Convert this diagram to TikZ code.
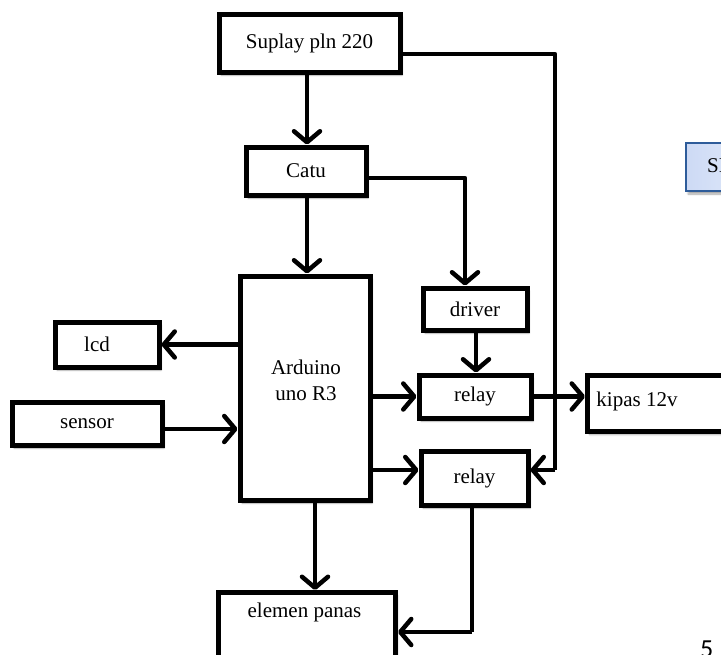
\documentclass[tikz,border=0pt]{standalone}
\usepackage{fontspec}
\setmainfont{Liberation Serif}
\newfontfamily\numfont{Carlito}
\usetikzlibrary{arrows.meta,shadows.blur}
\begin{document}
\begin{tikzpicture}[x=1pt,y=-1pt,
  blk/.style={draw=black, line width=5pt, fill=white, inner sep=0pt,
    blur shadow={shadow xshift=2pt, shadow yshift=-3pt, shadow blur steps=6, shadow opacity=35},
    font=\fontsize{21}{26}\selectfont, align=center},
  txt/.style={inner sep=0pt, font=\fontsize{21}{26}\selectfont, align=center},
  conn/.style={line width=4.5pt, line join=round,
    -{Straight Barb[length=11pt,width=26pt,round]}},
  wire/.style={line width=4.5pt, line join=round}]
\useasboundingbox (0,0) rectangle (721,654);

% SI box (cropped on the right)
\node[draw={rgb,255:red,46;green,92;blue,154}, line width=2pt, inner sep=0pt,
  left color={rgb,255:red,205;green,218;blue,245}, right color={rgb,255:red,228;green,236;blue,250},
  minimum width=80pt, minimum height=48pt,
  blur shadow={shadow xshift=2pt, shadow yshift=-3pt, shadow blur steps=6, shadow opacity=35},
  anchor=north west] (si) at (685,142) {};
\node[txt, anchor=west] (sit) at (707,166) {SI};

% blocks
\node[blk, minimum width=181pt, minimum height=58pt] (sup) at (309.5,43) {Suplay pln 220};
\node[blk, minimum width=120pt, minimum height=48pt] (catu) at (306,171) {Catu};
\node[blk, minimum width=130pt, minimum height=224pt] (ard) at (305,388) {};
\node[txt] (ardt) at (306,380) {Arduino\\uno R3};
\node[blk, minimum width=104pt, minimum height=42pt] (drv) at (475,309) {driver};
\node[blk, minimum width=112pt, minimum height=43pt] (rl1) at (475,396.5) {relay};
\node[blk, minimum width=107pt, minimum height=54pt] (rl2) at (474.5,478) {relay};
\node[blk, minimum width=104pt, minimum height=45pt] (lcd) at (107,344.5) {\hspace*{-20pt}lcd};
\node[blk, minimum width=150pt, minimum height=43pt] (sen) at (87,423.5) {sensor};
\node[blk, minimum width=175pt, minimum height=56pt, anchor=north west] (kip) at (585,373) {};
\node[txt] (kipt) at (637,401) {kipas 12v};
\node[blk, minimum width=177pt, minimum height=90pt, anchor=north west] (elm) at (216,590) {};
\node[txt] (elmt) at (304.5,612) {elemen panas};

% page number fragment
\node[inner sep=0pt, anchor=base west, font=\numfont\fontsize{26}{30}\selectfont] (pg) at (700,657) {5};

% coordinates for bends
\coordinate (c1) at (555,54);
\coordinate (c2) at (555,470);
\coordinate (c3) at (465,178);
\coordinate (c4) at (472,632);

% connectors
\draw[wire] (sup.east |- c1) -- (c1) -- (c2);
\draw[conn] (c2) -- (rl2.east |- c2);
\draw[conn] (sup.south -| 307,0) -- (catu.north -| 307,0);
\draw[conn] (catu.east |- c3) -- (c3) -- (c3 |- drv.north);
\draw[conn] (catu.south -| 307,0) -- (ard.north -| 307,0);
\draw[conn] (ard.west |- lcd.east) -- (lcd.east);
\draw[conn] (sen.east |- 0,429) -- (ard.west |- 0,429);
\draw[conn] (ard.east |- rl1.west) -- (rl1.west);
\draw[conn] (ard.east |- 0,470) -- (rl2.west |- 0,470);
\draw[conn] (drv.south -| 476,0) -- (rl1.north -| 476,0);
\draw[conn] (rl1.east) -- (kip.west |- rl1.east);
\draw[conn] (ard.south -| 315,0) -- (elm.north -| 315,0);
\draw[wire] (rl2.south -| c4) -- (c4);
\draw[conn] (c4) -- (elm.east |- c4);
\end{tikzpicture}
\end{document}
